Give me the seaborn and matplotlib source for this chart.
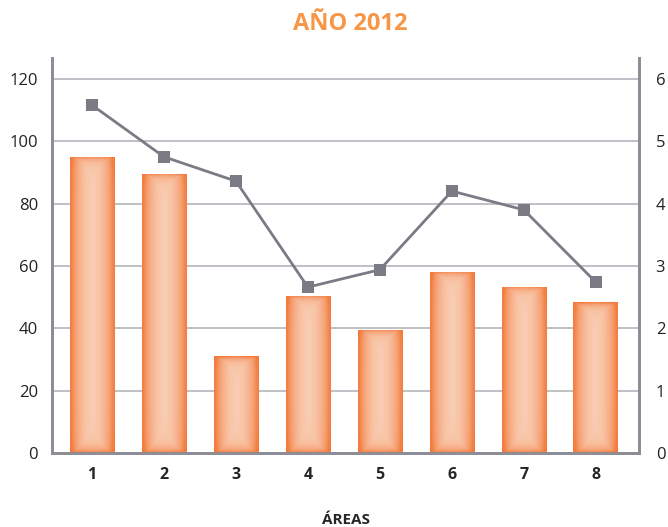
import matplotlib
matplotlib.use("Agg")
import matplotlib.pyplot as plt
import seaborn as sns
import numpy as np
import pandas as pd
from matplotlib.colors import LinearSegmentedColormap

areas = ["1", "2", "3", "4", "5", "6", "7", "8"]
bar_values = [95.0, 89.5, 31.1, 50.4, 39.5, 58.1, 53.3, 48.4]
line_values = [5.58, 4.75, 4.36, 2.66, 2.94, 4.20, 3.90, 2.74]
left_ticks = [0, 20, 40, 60, 80, 100, 120]
right_ticks = [0, 1, 2, 3, 4, 5, 6]

df = pd.DataFrame({"area": areas, "valor": bar_values, "indice": line_values})

sns.set_style("white")
plt.rcParams["font.family"] = ["Open Sans", "DejaVu Sans"]

fig = plt.figure(figsize=(6.68, 5.27), dpi=100)
ax = fig.add_axes([52 / 668, 1 - 453 / 527, (639 - 52) / 668, (453 - 58) / 527])

sns.barplot(data=df, x="area", y="valor", ax=ax, color="#F58A4E", width=0.62,
            edgecolor="none", zorder=2)

ymax = 126.7
px_per_unit = 395 / ymax

# gradient fill: light centre, saturated orange towards the edges
cmap = LinearSegmentedColormap.from_list("g", ["#F9CDB3", "#F8BE9D", "#F6A479", "#F27B3B"])
for p in ax.patches:
    x0, y0 = p.get_x(), p.get_y()
    w, h = p.get_width(), p.get_height()
    hp = max(h * px_per_unit, 1)
    xs = np.linspace(0, 1, 120)
    ys = np.linspace(0, hp, max(int(hp), 2))
    X, Y = np.meshgrid(xs, ys)
    dx = np.abs(2 * X - 1) ** 1.25
    dy = np.maximum(np.exp(-(hp - Y) / 7), np.exp(-Y / 9))
    g = np.clip(np.maximum(dx, 0.9 * dy) + 0.15 * dx * dy, 0, 1)
    im = ax.imshow(g, cmap=cmap, vmin=0, vmax=1, extent=[x0, x0 + w, y0, y0 + h],
                   origin="lower", aspect="auto", zorder=3, interpolation="bilinear")
    im.set_clip_path(p)
    p.set_facecolor("none")

ax.set_ylim(0, ymax)
ax.set_xlim(-0.555, 7.6)
ax.set_yticks(left_ticks)
ax.yaxis.grid(True, color="#B4B4BC", linewidth=1.2, zorder=0)
ax.set_axisbelow(True)
ax.tick_params(axis="y", length=0, labelsize=12, pad=10, labelcolor="#222222")
ax.tick_params(axis="x", length=0, labelsize=11.5, pad=10)
for lbl in ax.get_xticklabels():
    lbl.set_fontweight("bold")
ax.set_xlabel("ÁREAS", fontsize=11, fontweight="bold", labelpad=22)
ax.set_ylabel("")

ax2 = ax.twinx()
sns.lineplot(x=np.arange(len(areas)), y=line_values, ax=ax2, color="#7A7B84",
             linewidth=2, marker="s", markersize=8, markeredgewidth=0, zorder=5)
ax2.set_ylim(0, 6 * ymax / 120)
ax2.set_yticks(right_ticks)
ax2.tick_params(axis="y", length=0, labelsize=12, pad=12, labelcolor="#222222")

for a in (ax, ax2):
    a.spines["top"].set_visible(False)
    for s in ("left", "right", "bottom"):
        a.spines[s].set_color("#8C8D96")
        a.spines[s].set_linewidth(2)

fig.text(350 / 668, 1 - 24 / 527, "AÑO 2012", color="#F79646", fontsize=17,
         fontweight="bold", ha="center", va="center")

fig.savefig("out.png", dpi=100)
